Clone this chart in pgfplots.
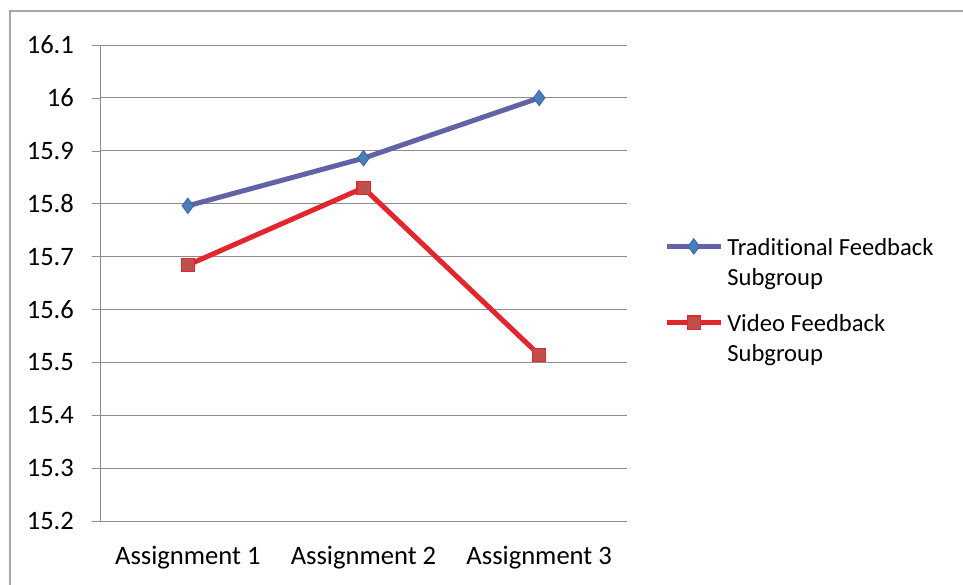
\documentclass[border=0pt]{standalone}
\usepackage{pgfplots}
\pgfplotsset{compat=1.18}
\usepackage{fontspec}
\setmainfont{Carlito}[Ligatures={NoCommon}]
\definecolor{tradline}{HTML}{6262A4}
\definecolor{tradmark}{HTML}{4A7EBB}
\definecolor{tradedge}{HTML}{3C69A8}
\definecolor{vidline}{HTML}{E3262E}
\definecolor{vidmark}{HTML}{C0504D}
\definecolor{gridgray}{HTML}{8C8C8C}
\definecolor{framegray}{HTML}{A6A6A6}
\begin{document}
\begin{tikzpicture}[font=\fontsize{13.3}{15}\selectfont]
\useasboundingbox (0,0) rectangle (481.5pt,-292pt);
\draw[framegray, line width=0.6pt] (5pt,-300pt) -- (5pt,-5.5pt) -- (490pt,-5.5pt);
\begin{axis}[
  at={(50pt,-260.5pt)}, anchor=south west,
  scale only axis, width=263.5pt, height=238pt,
  xmin=0.5, xmax=3.5, ymin=15.2, ymax=16.1,
  axis x line=bottom, axis y line=left,
  axis line style={gridgray, -},
  xtick={1,2,3}, xticklabels={Assignment 1, Assignment 2, Assignment 3},
  x tick style={draw=none},
  extra x ticks={0.5,1.5,2.5,3.5}, extra x tick labels={},
  extra x tick style={tick align=outside, major tick length=4pt, tick style={gridgray, draw=gridgray}, grid=none},
  ytick={15.2,15.3,...,16.15},
  y tick style={gridgray},
  tick align=outside, major tick length=4pt,
  ymajorgrids, grid style={gridgray, line width=0.5pt},
  /pgf/number format/assume math mode=true,
  /pgf/number format/fixed, /pgf/number format/precision=1,
  yticklabel style={text=black, xshift=-5.5pt},
  xticklabel style={text=black, yshift=-5pt},
  legend cell align=left,
  legend style={draw=none, fill=none, at={(axis description cs:1.070,0.603)}, anchor=north west,
    cells={align=left}, row sep=9pt, inner sep=0pt, font=\fontsize{12.3}{15}\selectfont},
  legend image code/.code={\draw[mark repeat=2, mark phase=2, yshift=8.5pt] plot coordinates {(0pt,0pt)(13.5pt,0pt)(27pt,0pt)};},
]
\addplot[tradline, line width=2.5pt, mark=diamond*, mark size=3.8pt,
  mark options={fill=tradmark, draw=tradedge, line width=0.5pt}]
  coordinates {(1,15.796) (2,15.886) (3,16.0)};
\addlegendentry{Traditional Feedback\\Subgroup}
\addplot[vidline, line width=2.5pt, mark=square*, mark size=3.3pt,
  mark options={fill=vidmark, draw=vidline, line width=0.6pt}]
  coordinates {(1,15.684) (2,15.83) (3,15.514)};
\addlegendentry{Video Feedback\\Subgroup}
\end{axis}
\end{tikzpicture}
\end{document}
